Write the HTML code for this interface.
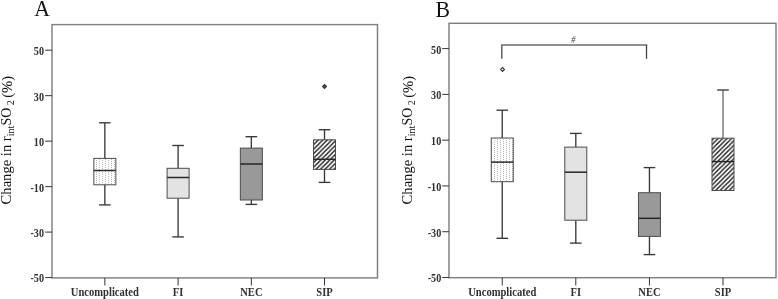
<!DOCTYPE html>
<html><head><meta charset="utf-8"><style>
html,body{margin:0;padding:0;background:#fff;}
body{width:778px;height:299px;overflow:hidden;}
svg{display:block;filter:grayscale(1);}
text{font-family:"Liberation Serif",serif;fill:#111;}
.lt{font-size:22.8px;}
.tl{font-size:12px;font-weight:bold;fill:#303030;}
.yt{font-size:14.6px;}
.sub{font-size:10px;}
.so{font-size:13.9px;}
.hs{font-size:9.8px;font-style:italic;fill:#333;}
</style></head><body>
<svg width="778" height="299" viewBox="0 0 778 299">
<defs>
<pattern id="dotsA" x="0" y="0" width="6" height="4" patternUnits="userSpaceOnUse">
<rect x="0" y="0" width="1" height="1" fill="#bababa"/>
<rect x="0" y="2" width="1" height="1" fill="#bababa"/>
<rect x="3" y="1" width="1" height="1" fill="#bababa"/>
<rect x="3" y="3" width="1" height="1" fill="#bababa"/>
</pattern>
<pattern id="dotsB" x="2" y="0" width="6" height="4" patternUnits="userSpaceOnUse">
<rect x="0" y="0" width="1" height="1" fill="#bababa"/>
<rect x="0" y="2" width="1" height="1" fill="#bababa"/>
<rect x="3" y="1" width="1" height="1" fill="#bababa"/>
<rect x="3" y="3" width="1" height="1" fill="#bababa"/>
</pattern>
<pattern id="hatchA" x="3.8" width="4.5" height="4.5" patternUnits="userSpaceOnUse">
<path d="M-1,1 L1,-1 M0,4.5 L4.5,0 M3.5,5.5 L5.5,3.5" stroke="#111" stroke-width="1.3"/>
</pattern>
<pattern id="hatchB" x="1.6" width="4.5" height="4.5" patternUnits="userSpaceOnUse">
<path d="M-1,1 L1,-1 M0,4.5 L4.5,0 M3.5,5.5 L5.5,3.5" stroke="#111" stroke-width="1.3"/>
</pattern>
</defs>
<rect width="778" height="299" fill="#fff"/>
<text transform="translate(34.2,15.7) scale(0.955,1)" class="lt">A</text>
<rect x="52" y="24.6" width="325.5" height="253.3" fill="none" stroke="#7f7f7f" stroke-width="1.45"/>
<line x1="45.2" y1="50.2" x2="52" y2="50.2" stroke="#333" stroke-width="1"/>
<text transform="translate(44,55.1) scale(0.845,1)" class="tl" text-anchor="end">50</text>
<line x1="45.2" y1="95.67" x2="52" y2="95.67" stroke="#333" stroke-width="1"/>
<text transform="translate(44,100.57) scale(0.845,1)" class="tl" text-anchor="end">30</text>
<line x1="45.2" y1="141.14" x2="52" y2="141.14" stroke="#333" stroke-width="1"/>
<text transform="translate(44,146.04) scale(0.845,1)" class="tl" text-anchor="end">10</text>
<line x1="45.2" y1="186.61" x2="52" y2="186.61" stroke="#333" stroke-width="1"/>
<text transform="translate(44,191.51) scale(0.845,1)" class="tl" text-anchor="end">-10</text>
<line x1="45.2" y1="232.08" x2="52" y2="232.08" stroke="#333" stroke-width="1"/>
<text transform="translate(44,236.98) scale(0.845,1)" class="tl" text-anchor="end">-30</text>
<line x1="45.2" y1="277.55" x2="52" y2="277.55" stroke="#333" stroke-width="1"/>
<text transform="translate(44,282.45) scale(0.845,1)" class="tl" text-anchor="end">-50</text>
<line x1="104.85" y1="277.9" x2="104.85" y2="285.5" stroke="#333" stroke-width="1"/>
<text transform="translate(104.85,295.6) scale(0.882,1)" class="tl" text-anchor="middle">Uncomplicated</text>
<line x1="178.1" y1="277.9" x2="178.1" y2="285.5" stroke="#333" stroke-width="1"/>
<text transform="translate(178.1,295.6) scale(0.882,1)" class="tl" text-anchor="middle">FI</text>
<line x1="251.35" y1="277.9" x2="251.35" y2="285.5" stroke="#333" stroke-width="1"/>
<text transform="translate(251.35,295.6) scale(0.882,1)" class="tl" text-anchor="middle">NEC</text>
<line x1="324.5" y1="277.9" x2="324.5" y2="285.5" stroke="#333" stroke-width="1"/>
<text transform="translate(324.5,295.6) scale(0.882,1)" class="tl" text-anchor="middle">SIP</text>
<line x1="104.85" y1="122.8" x2="104.85" y2="158.4" stroke="#383838" stroke-width="1.35"/>
<line x1="99.05" y1="122.8" x2="110.65" y2="122.8" stroke="#383838" stroke-width="1.35"/>
<line x1="104.85" y1="184.8" x2="104.85" y2="204.9" stroke="#383838" stroke-width="1.35"/>
<line x1="99.05" y1="204.9" x2="110.65" y2="204.9" stroke="#383838" stroke-width="1.35"/>
<rect x="93.85" y="158.4" width="22" height="26.4" fill="url(#dotsA)" stroke="#4c4c4c" stroke-width="1"/>
<line x1="93.85" y1="170.5" x2="115.85" y2="170.5" stroke="#262626" stroke-width="1.5"/>
<line x1="178.1" y1="145.5" x2="178.1" y2="168.3" stroke="#383838" stroke-width="1.35"/>
<line x1="172.3" y1="145.5" x2="183.9" y2="145.5" stroke="#383838" stroke-width="1.35"/>
<line x1="178.1" y1="198.2" x2="178.1" y2="236.9" stroke="#383838" stroke-width="1.35"/>
<line x1="172.3" y1="236.9" x2="183.9" y2="236.9" stroke="#383838" stroke-width="1.35"/>
<rect x="167.1" y="168.3" width="22" height="29.9" fill="#e3e3e3" stroke="#4c4c4c" stroke-width="1"/>
<line x1="167.1" y1="177.5" x2="189.1" y2="177.5" stroke="#262626" stroke-width="1.5"/>
<line x1="251.35" y1="136.7" x2="251.35" y2="148.1" stroke="#383838" stroke-width="1.35"/>
<line x1="245.55" y1="136.7" x2="257.15" y2="136.7" stroke="#383838" stroke-width="1.35"/>
<line x1="251.35" y1="200" x2="251.35" y2="204.4" stroke="#383838" stroke-width="1.35"/>
<line x1="245.55" y1="204.4" x2="257.15" y2="204.4" stroke="#383838" stroke-width="1.35"/>
<rect x="240.35" y="148.1" width="22" height="51.9" fill="#999999" stroke="#4c4c4c" stroke-width="1"/>
<line x1="240.35" y1="164" x2="262.35" y2="164" stroke="#262626" stroke-width="1.5"/>
<line x1="324.5" y1="129.7" x2="324.5" y2="139.8" stroke="#383838" stroke-width="1.35"/>
<line x1="318.7" y1="129.7" x2="330.3" y2="129.7" stroke="#383838" stroke-width="1.35"/>
<line x1="324.5" y1="169.4" x2="324.5" y2="182.4" stroke="#383838" stroke-width="1.35"/>
<line x1="318.7" y1="182.4" x2="330.3" y2="182.4" stroke="#383838" stroke-width="1.35"/>
<rect x="313.5" y="139.8" width="22" height="29.6" fill="url(#hatchA)" stroke="#4c4c4c" stroke-width="1"/>
<line x1="313.5" y1="159.3" x2="335.5" y2="159.3" stroke="#262626" stroke-width="1.5"/>
<path d="M324.5,84.45 L326.45,86.4 L324.5,88.35 L322.55,86.4 Z" fill="#666" stroke="#333" stroke-width="1.1"/>
<text transform="translate(11.3,204.4) rotate(-90)" class="yt">Change in r<tspan class="sub" dy="3">int</tspan><tspan dx="0.2" dy="-3.5" class="so">SO</tspan><tspan class="sub" dx="2.6" dy="3.6">2</tspan><tspan dx="-1.2" dy="-2.9"> (%)</tspan></text>
<text transform="translate(435.6,16.6) scale(0.955,1)" class="lt">B</text>
<rect x="449" y="23.3" width="327" height="254.4" fill="none" stroke="#7f7f7f" stroke-width="1.45"/>
<line x1="442.2" y1="48.6" x2="449" y2="48.6" stroke="#333" stroke-width="1"/>
<text transform="translate(441.2,53.5) scale(0.845,1)" class="tl" text-anchor="end">50</text>
<line x1="442.2" y1="94.38" x2="449" y2="94.38" stroke="#333" stroke-width="1"/>
<text transform="translate(441.2,99.28) scale(0.845,1)" class="tl" text-anchor="end">30</text>
<line x1="442.2" y1="140.16" x2="449" y2="140.16" stroke="#333" stroke-width="1"/>
<text transform="translate(441.2,145.06) scale(0.845,1)" class="tl" text-anchor="end">10</text>
<line x1="442.2" y1="185.94" x2="449" y2="185.94" stroke="#333" stroke-width="1"/>
<text transform="translate(441.2,190.84) scale(0.845,1)" class="tl" text-anchor="end">-10</text>
<line x1="442.2" y1="231.72" x2="449" y2="231.72" stroke="#333" stroke-width="1"/>
<text transform="translate(441.2,236.62) scale(0.845,1)" class="tl" text-anchor="end">-30</text>
<line x1="442.2" y1="277.5" x2="449" y2="277.5" stroke="#333" stroke-width="1"/>
<text transform="translate(441.2,282.4) scale(0.845,1)" class="tl" text-anchor="end">-50</text>
<line x1="502.25" y1="277.7" x2="502.25" y2="285.5" stroke="#333" stroke-width="1"/>
<text transform="translate(502.25,295.6) scale(0.882,1)" class="tl" text-anchor="middle">Uncomplicated</text>
<line x1="575.8" y1="277.7" x2="575.8" y2="285.5" stroke="#333" stroke-width="1"/>
<text transform="translate(575.8,295.6) scale(0.882,1)" class="tl" text-anchor="middle">FI</text>
<line x1="649.45" y1="277.7" x2="649.45" y2="285.5" stroke="#333" stroke-width="1"/>
<text transform="translate(649.45,295.6) scale(0.882,1)" class="tl" text-anchor="middle">NEC</text>
<line x1="723" y1="277.7" x2="723" y2="285.5" stroke="#333" stroke-width="1"/>
<text transform="translate(723,295.6) scale(0.882,1)" class="tl" text-anchor="middle">SIP</text>
<line x1="502.25" y1="110.2" x2="502.25" y2="138" stroke="#383838" stroke-width="1.35"/>
<line x1="496.45" y1="110.2" x2="508.05" y2="110.2" stroke="#383838" stroke-width="1.35"/>
<line x1="502.25" y1="181.7" x2="502.25" y2="238.3" stroke="#383838" stroke-width="1.35"/>
<line x1="496.45" y1="238.3" x2="508.05" y2="238.3" stroke="#383838" stroke-width="1.35"/>
<rect x="491.25" y="138" width="22" height="43.7" fill="url(#dotsB)" stroke="#4c4c4c" stroke-width="1"/>
<line x1="491.25" y1="162.1" x2="513.25" y2="162.1" stroke="#262626" stroke-width="1.5"/>
<line x1="575.8" y1="133.4" x2="575.8" y2="147.1" stroke="#383838" stroke-width="1.35"/>
<line x1="570" y1="133.4" x2="581.6" y2="133.4" stroke="#383838" stroke-width="1.35"/>
<line x1="575.8" y1="220.2" x2="575.8" y2="243.1" stroke="#383838" stroke-width="1.35"/>
<line x1="570" y1="243.1" x2="581.6" y2="243.1" stroke="#383838" stroke-width="1.35"/>
<rect x="564.8" y="147.1" width="22" height="73.1" fill="#e3e3e3" stroke="#4c4c4c" stroke-width="1"/>
<line x1="564.8" y1="172.2" x2="586.8" y2="172.2" stroke="#262626" stroke-width="1.5"/>
<line x1="649.45" y1="167.6" x2="649.45" y2="192.7" stroke="#383838" stroke-width="1.35"/>
<line x1="643.65" y1="167.6" x2="655.25" y2="167.6" stroke="#383838" stroke-width="1.35"/>
<line x1="649.45" y1="236.4" x2="649.45" y2="254.6" stroke="#383838" stroke-width="1.35"/>
<line x1="643.65" y1="254.6" x2="655.25" y2="254.6" stroke="#383838" stroke-width="1.35"/>
<rect x="638.45" y="192.7" width="22" height="43.7" fill="#999999" stroke="#4c4c4c" stroke-width="1"/>
<line x1="638.45" y1="218.3" x2="660.45" y2="218.3" stroke="#262626" stroke-width="1.5"/>
<line x1="723" y1="90" x2="723" y2="138.2" stroke="#707070" stroke-width="1.35"/>
<line x1="717.2" y1="90" x2="728.8" y2="90" stroke="#383838" stroke-width="1.35"/>
<rect x="712" y="138.2" width="22" height="52.3" fill="url(#hatchB)" stroke="#4c4c4c" stroke-width="1"/>
<line x1="712" y1="161.6" x2="734" y2="161.6" stroke="#262626" stroke-width="1.5"/>
<path d="M502.5,67.5 L504.45,69.45 L502.5,71.4 L500.55,69.45 Z" fill="none" stroke="#333" stroke-width="1.1"/>
<path d="M501.8,45 L646.5,45" fill="none" stroke="#6c6c6c" stroke-width="1.5" stroke-linecap="square"/>
<path d="M501.8,58.8 L501.8,45" fill="none" stroke="#606060" stroke-width="1.5"/>
<path d="M646.5,58.8 L646.5,45" fill="none" stroke="#404040" stroke-width="1.3"/>
<text transform="translate(573.4,43.0) scale(0.86,1)" class="hs" text-anchor="middle">#</text>
<text transform="translate(412.3,204.4) rotate(-90)" class="yt">Change in r<tspan class="sub" dy="3">int</tspan><tspan dx="0.2" dy="-3.5" class="so">SO</tspan><tspan class="sub" dx="2.6" dy="3.6">2</tspan><tspan dx="-1.2" dy="-2.9"> (%)</tspan></text>
</svg>
</body></html>
